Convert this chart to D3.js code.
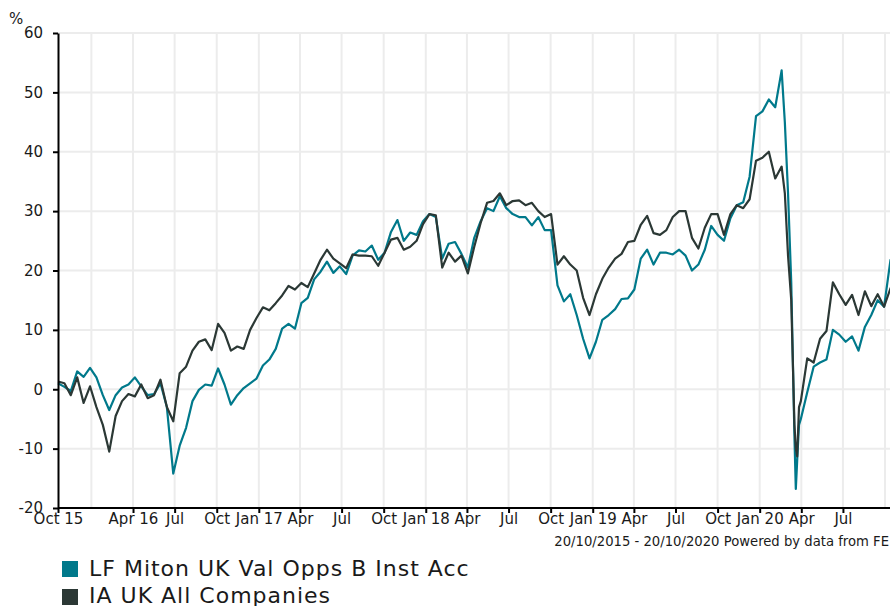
<!DOCTYPE html>
<html>
<head>
<meta charset="utf-8">
<script src="https://cdnjs.cloudflare.com/ajax/libs/d3/7.8.5/d3.min.js"></script>
<style>
body { margin: 0; background: #fff; }
svg text { font-family: "DejaVu Sans", Verdana, sans-serif; fill: #1a1a1a; }
</style>
</head>
<body>
<div id="chart"></div>
<script>
// period of the chart
var startDate = new Date(2015, 9, 20);
var endDate = new Date(2020, 9, 20);

// days after 20/10/2015 for each reading
var dayOffsets = [0, 14, 28, 42, 56, 70, 84, 98, 112, 126, 140, 154, 168, 182, 196, 210, 224, 238, 252, 266,
	280, 294, 308, 322, 336, 350, 364, 378, 392, 406, 420, 434, 448, 462, 476, 490, 504, 518, 532, 546,
	560, 574, 588, 602, 616, 630, 644, 658, 672, 686, 700, 714, 728, 742, 756, 770, 784, 798, 812, 826,
	840, 854, 868, 882, 896, 910, 924, 938, 952, 966, 980, 994, 1008, 1022, 1036, 1050, 1064, 1078, 1092, 1106,
	1120, 1134, 1148, 1162, 1176, 1190, 1204, 1218, 1232, 1246, 1260, 1274, 1288, 1302, 1316, 1330, 1344, 1358, 1372, 1386,
	1400, 1414, 1428, 1442, 1456, 1470, 1484, 1498, 1512, 1526, 1540, 1554, 1568, 1582, 1589, 1596, 1603, 1610, 1613, 1616,
	1620, 1624, 1638, 1652, 1666, 1680, 1694, 1708, 1722, 1736, 1750, 1764, 1778, 1792, 1806, 1820, 1827];

// LF Miton UK Val Opps B Inst Acc (%)
var fundValues = [1.0, 0.4, -0.3, 3.0, 2.1, 3.6, 2.0, -1.0, -3.5, -1.0, 0.3, 0.8, 2.0, 0.5, -1.0, -0.8, 1.0, -3.0, -14.2, -9.5,
	-6.5, -2.0, -0.1, 0.8, 0.6, 3.5, 0.8, -2.6, -1.0, 0.2, 1.0, 1.8, 4.0, 5.0, 6.8, 10.2, 11.0, 10.2, 14.5, 15.4,
	18.5, 19.8, 21.5, 19.6, 20.7, 19.4, 22.5, 23.4, 23.2, 24.2, 21.8, 23.0, 26.5, 28.5, 25.0, 26.4, 26.0, 28.3, 29.5, 29.0,
	22.0, 24.5, 24.8, 22.8, 20.5, 25.5, 28.3, 30.5, 30.0, 32.5, 30.5, 29.5, 29.0, 29.0, 27.6, 29.0, 26.8, 26.8, 17.5, 14.8,
	16.0, 12.5, 8.5, 5.2, 8.0, 11.7, 12.5, 13.5, 15.2, 15.3, 16.8, 22.0, 23.5, 21.0, 23.0, 23.0, 22.7, 23.5, 22.5, 20.0,
	21.0, 23.5, 27.5, 26.0, 25.0, 28.8, 31.0, 31.5, 35.8, 46.0, 46.8, 48.8, 47.5, 53.7, 45.0, 33.0, 18.0, -8.0, -16.8, -12.0,
	-6.0, -5.0, -0.5, 3.8, 4.5, 5.0, 10.0, 9.2, 8.0, 8.9, 6.5, 10.5, 12.5, 15.0, 13.9, 21.8, 22.5];

// IA UK All Companies (%)
var sectorValues = [1.3, 1.0, -1.0, 2.0, -2.3, 0.5, -3.0, -6.0, -10.5, -4.5, -2.0, -0.8, -1.2, 0.8, -1.5, -1.0, 1.6, -3.0, -5.4, 2.7,
	3.8, 6.5, 8.0, 8.4, 6.6, 11.0, 9.5, 6.5, 7.2, 6.8, 10.0, 12.0, 13.8, 13.3, 14.5, 15.8, 17.4, 16.8, 17.9, 17.2,
	19.5, 21.8, 23.5, 22.0, 21.2, 20.4, 22.7, 22.5, 22.5, 22.4, 20.8, 23.0, 25.2, 25.5, 23.5, 24.0, 25.0, 27.8, 29.5, 29.3,
	20.5, 23.0, 21.5, 22.5, 19.5, 24.0, 28.0, 31.4, 31.7, 33.0, 31.0, 31.7, 31.8, 31.0, 31.4, 30.0, 29.0, 29.5, 21.0, 22.4,
	21.0, 20.0, 15.4, 12.5, 16.0, 18.6, 20.5, 22.0, 22.8, 24.8, 25.0, 27.7, 29.2, 26.3, 26.0, 26.8, 29.0, 30.0, 30.0, 25.5,
	23.7, 27.2, 29.5, 29.5, 26.0, 29.5, 31.0, 30.5, 32.0, 38.5, 39.0, 40.0, 35.5, 37.5, 33.0, 22.5, 15.0, -6.0, -10.0, -11.3,
	-3.0, -2.0, 5.2, 4.5, 8.5, 9.8, 18.0, 16.0, 14.2, 15.9, 12.5, 16.5, 14.0, 16.0, 13.9, 17.0, 16.8];

// x ticks (quarters) and their labels, empty label = gridline only
var tickDates = ["2015-10-20", "2016-01-01", "2016-04-01", "2016-07-01", "2016-10-01", "2017-01-01", "2017-04-01",
	"2017-07-01", "2017-10-01", "2018-01-01", "2018-04-01", "2018-07-01", "2018-10-01", "2019-01-01", "2019-04-01",
	"2019-07-01", "2019-10-01", "2020-01-01", "2020-04-01", "2020-07-01", "2020-10-01"];
var tickLabels = ["Oct 15", "", "Apr 16", "Jul", "Oct", "Jan 17", "Apr", "Jul", "Oct", "Jan 18", "Apr",
	"Jul", "Oct", "Jan 19", "Apr", "Jul", "Oct", "Jan 20", "Apr", "Jul", ""];
var yTicks = [-20, -10, 0, 10, 20, 30, 40, 50, 60];

var seriesNames = ["LF Miton UK Val Opps B Inst Acc", "IA UK All Companies"];
var seriesColors = ["#00798b", "#2b3835"];

var svgWidth = 890;
var svgHeight = 606;

var svg = d3.select("#chart")
	.append("svg")
	.attr("width", svgWidth)
	.attr("height", svgHeight);

var parseDate = d3.timeParse("%Y-%m-%d");
var ticks = tickDates.map(function(d, i) {
	return { date: parseDate(d), label: tickLabels[i] };
});

// scales
var xScale = d3.scaleTime()
	.domain([startDate, endDate])
	.range([58, 893.7]);

var yScale = d3.scaleLinear()
	.domain([-20, 60])
	.range([508, 33]);

// gridlines
var grid = svg.append("g").attr("class", "grid");

grid.selectAll(".hgrid")
	.data(yTicks.slice(1))
	.enter()
	.append("line")
	.attr("x1", 58)
	.attr("x2", svgWidth)
	.attr("y1", d => yScale(d))
	.attr("y2", d => yScale(d))
	.attr("stroke", "#ececec")
	.attr("stroke-width", 2);

grid.selectAll(".vgrid")
	.data(ticks.slice(1))
	.enter()
	.append("line")
	.attr("x1", d => xScale(d.date))
	.attr("x2", d => xScale(d.date))
	.attr("y1", 33)
	.attr("y2", 508)
	.attr("stroke", "#ececec")
	.attr("stroke-width", 2);

// lines
var rows = dayOffsets.map(function(d, i) {
	return { date: d3.timeDay.offset(startDate, d), fund: fundValues[i], sector: sectorValues[i] };
});

var fundLine = d3.line()
	.x(d => xScale(d.date))
	.y(d => yScale(d.fund));

var sectorLine = d3.line()
	.x(d => xScale(d.date))
	.y(d => yScale(d.sector));

svg.append("path")
	.datum(rows)
	.attr("d", fundLine)
	.attr("fill", "none")
	.attr("stroke", seriesColors[0])
	.attr("stroke-width", 2.2)
	.attr("stroke-linejoin", "round");

svg.append("path")
	.datum(rows)
	.attr("d", sectorLine)
	.attr("fill", "none")
	.attr("stroke", seriesColors[1])
	.attr("stroke-width", 2.2)
	.attr("stroke-linejoin", "round");

// y axis
var leftAxis = d3.axisLeft(yScale)
	.tickValues(yTicks)
	.tickFormat(d => String(d))
	.tickSize(5)
	.tickSizeOuter(0)
	.tickPadding(10);

var yAxis = svg.append("g")
	.attr("transform", "translate(58,0)")
	.call(leftAxis);

// x axis, only labelled ticks get a tick mark
var labelled = ticks.filter(d => d.label !== "");
var bottomAxis = d3.axisBottom(xScale)
	.tickValues(labelled.map(d => d.date))
	.tickFormat((d, i) => labelled[i].label)
	.tickSize(5)
	.tickSizeOuter(0)
	.tickPadding(0);

var xAxis = svg.append("g")
	.attr("transform", "translate(0,508)")
	.call(bottomAxis);

[yAxis, xAxis].forEach(function(ax) {
	ax.select(".domain").attr("stroke", "#000").attr("stroke-width", 2);
	ax.selectAll(".tick line").attr("stroke", "#000").attr("stroke-width", 2);
	ax.selectAll(".tick text").style("font-size", "15px").attr("fill", "#1a1a1a");
});
xAxis.select(".domain").attr("d", "M58,0H" + svgWidth);

// unit label
svg.append("text")
	.attr("x", 9)
	.attr("y", 24)
	.style("font-size", "15px")
	.text("%");

// source footer
svg.append("text")
	.attr("x", 889)
	.attr("y", 546)
	.attr("text-anchor", "end")
	.style("font-size", "13.2px")
	.text("20/10/2015 - 20/10/2020 Powered by data from FE");

// legend
var legend = svg.append("g")
	.attr("transform", "translate(62,561)");

legend.selectAll("rect")
	.data(seriesNames)
	.enter()
	.append("rect")
	.attr("x", 0)
	.attr("y", (d, i) => i * 28)
	.attr("width", 16)
	.attr("height", 16)
	.attr("fill", (d, i) => seriesColors[i]);

legend.selectAll("text")
	.data(seriesNames)
	.enter()
	.append("text")
	.attr("x", 27)
	.attr("y", (d, i) => 15 + i * 27)
	.style("font-size", "22px")
	.style("letter-spacing", "1px")
	.text(d => d);
</script>
</body>
</html>
